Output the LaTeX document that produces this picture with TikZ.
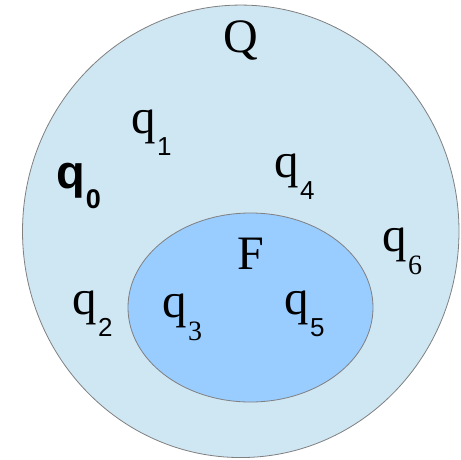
\documentclass[tikz,border=0pt]{standalone}
\usepackage{fontspec}
\setmainfont{Liberation Serif}
\newfontfamily\lsans{Liberation Sans}
\usetikzlibrary{shapes.geometric}
\definecolor{outerblue}{RGB}{207,230,243}
\definecolor{innerblue}{RGB}{153,204,255}
\definecolor{edgegray}{RGB}{128,128,128}
\newcommand\subsans[1]{\kern1.5pt\raisebox{-22pt}{\fontsize{26}{26}\lsans #1}}
\newcommand\subserif[1]{\kern1.5pt\raisebox{-23pt}{\fontsize{28}{28}\selectfont #1}}
\begin{document}
\begin{tikzpicture}[x=1pt,y=-1pt,
  region/.style={ellipse, draw=edgegray, line width=0.8pt, inner sep=0pt},
  lab/.style={inner sep=0pt, anchor=base west, font=\fontsize{49}{49}\selectfont},
  biglab/.style={inner sep=0pt, anchor=base, font=\fontsize{48}{48}\selectfont}]
\useasboundingbox (0,0) rectangle (461,459);
\node[region, fill=outerblue, minimum width=436.5pt, minimum height=452.5pt] (Qset) at (240.75,231.3) {};
\node[region, fill=innerblue, minimum width=245pt, minimum height=189pt] (Fset) at (250.5,307.5) {};
\node[biglab] (Q) at (240.5,52) {Q};
\node[biglab] (F) at (250.5,269) {F};
\node[inner sep=0pt, anchor=base west, font=\fontsize{47}{47}\lsans\bfseries] (q0) at (56,188) {q\kern1pt\raisebox{-20pt}{\fontsize{27}{27}\selectfont 0}};
\node[lab] (q1) at (131,133) {q\subsans{1}};
\node[lab] (q2) at (72,314) {q\subsans{2}};
\node[lab] (q3) at (162,317) {q\subserif{3}};
\node[lab] (q4) at (274,177) {q\subsans{4}};
\node[lab] (q5) at (284,314) {q\subsans{5}};
\node[lab] (q6) at (382,251) {q\subserif{6}};
\end{tikzpicture}
\end{document}
